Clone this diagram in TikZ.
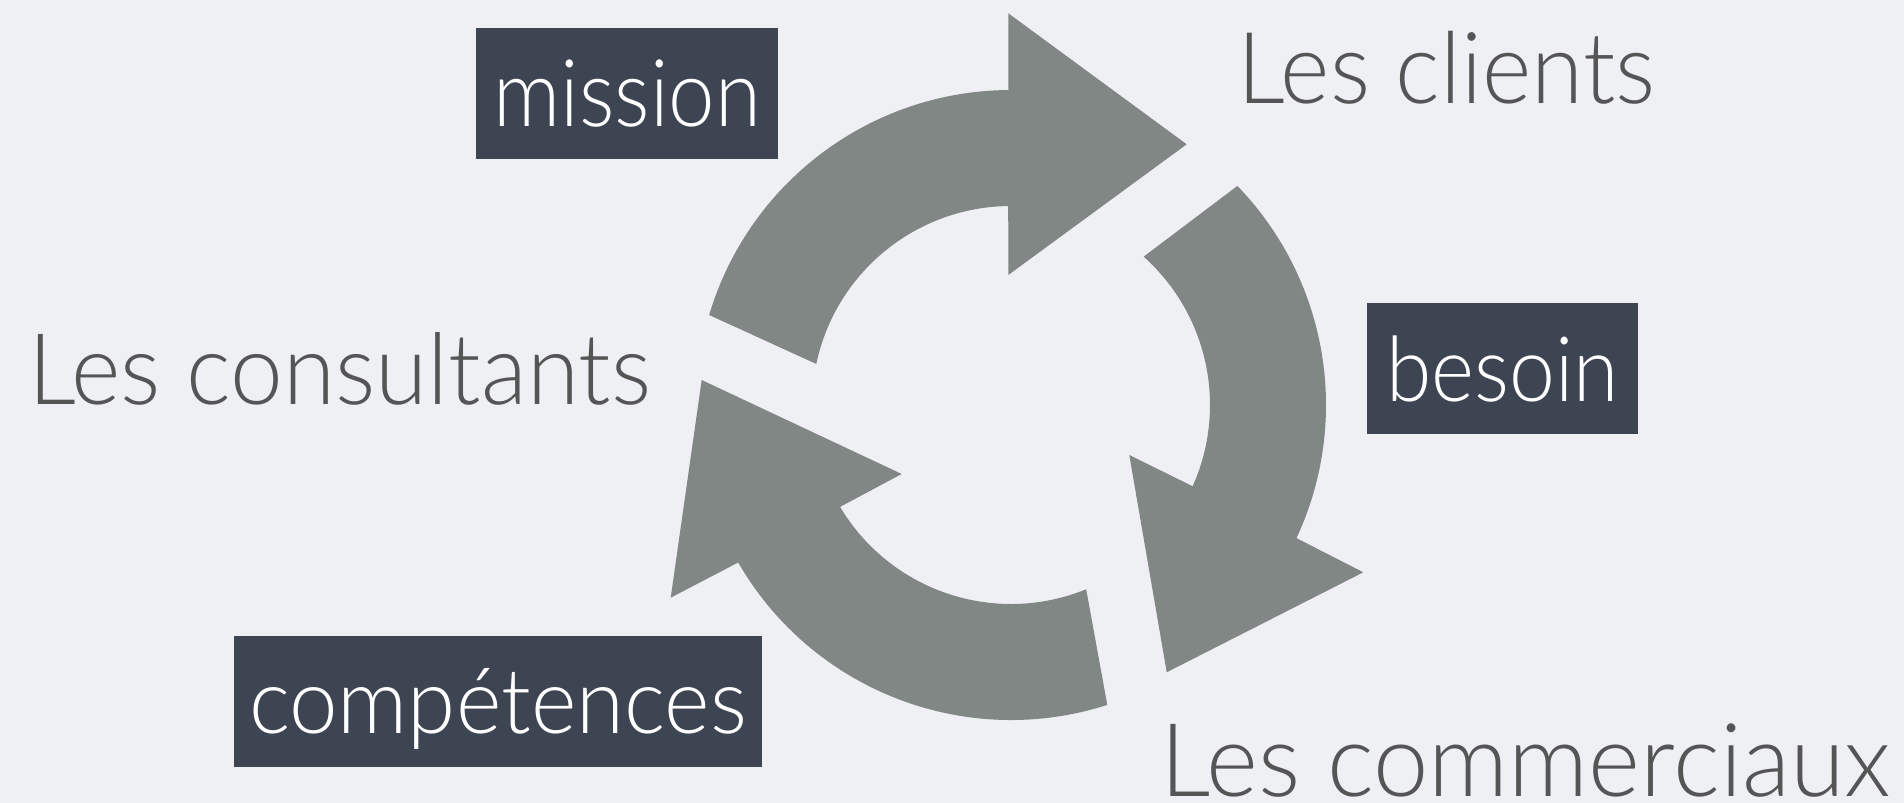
\documentclass[tikz,border=0pt]{standalone}
\usepackage{fontspec}
\setmainfont{Lato Light}
\usepackage{graphicx}
\definecolor{bgc}{HTML}{EFF0F4}
\definecolor{arrowc}{HTML}{818784}
\definecolor{boxc}{HTML}{3D4452}
\definecolor{textc}{HTML}{555555}
\tikzset{
  bigtext/.style={anchor=base west, inner sep=0pt, text=textc},
  lblbox/.style={fill=boxc, text=white, inner sep=0pt, text depth=0pt, anchor=center},
  ringarrow/.style={fill=arrowc, draw=none}
}
\begin{document}
\begin{tikzpicture}[x=1pt,y=1pt]
\fill[bgc] (0,0) rectangle (1904,803);
\useasboundingbox (0,0) rectangle (1904,803);

\begin{scope}[shift={(1011,398)}]
  % top arrow (towards Les clients)
  \fill[ringarrow] (163.4:315) arc[start angle=163.4, end angle=90.5, radius=315]
    -- (-2.7,391.7) -- (175.7,260.7) -- (-2.7,130)
    -- (90.8:199) arc[start angle=90.8, end angle=168.1, radius=199] -- cycle;
  % right arrow (towards Les commerciaux)
  \fill[ringarrow] (44.06:315) arc[start angle=44.06, end angle=-25.0, radius=315]
    -- (352.3,-167.3) -- (155.7,-267.3) -- (118.3,-50)
    -- (-24.1:199) arc[start angle=-24.1, end angle=48.2, radius=199] -- cycle;
  % bottom arrow (towards Les consultants)
  \fill[ringarrow] (-72.2:315) arc[start angle=-72.2, end angle=-150, radius=315]
    -- (-340.3,-192.7) -- (-309.3,25) -- (-109.3,-69)
    -- (-149.2:199) arc[start angle=-149.2, end angle=-67.8, radius=199] -- cycle;
\end{scope}

\node[bigtext] (clients) at (1237.3,699) {\resizebox{417.7pt}{72.3pt}{Les clients}};
\node[bigtext] (consultants) at (28,398.7) {\resizebox{622.5pt}{72pt}{Les consultants}};
\node[bigtext] (commerciaux) at (1160.6,6.3) {\resizebox{729.8pt}{72.7pt}{Les commerciaux}};

\node[lblbox, minimum width=302.3pt, minimum height=131.3pt] (mission) at (627.2,709.65)
  {\resizebox{267.3pt}{66.7pt}{mission}};
\node[lblbox, minimum width=271pt, minimum height=131.3pt] (besoin) at (1502.8,434.65)
  {\resizebox{232.4pt}{65.7pt}{besoin}};
\node[lblbox, minimum width=528.5pt, minimum height=131pt] (competences) at (497.85,101.8)
  {\resizebox{497.5pt}{65pt}{compétences}};
\end{tikzpicture}
\end{document}
